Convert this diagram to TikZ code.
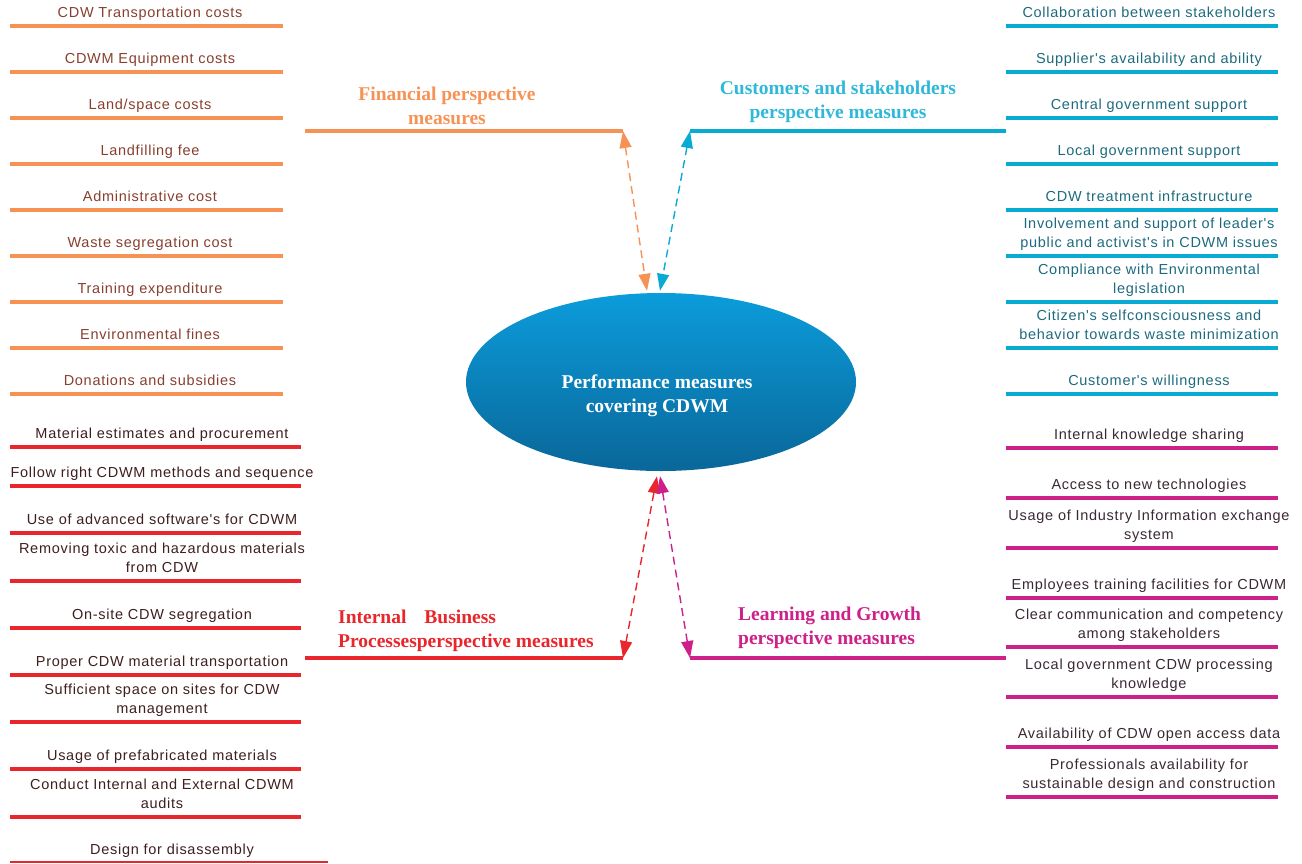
\documentclass[tikz,border=0pt]{standalone}
\usepackage{fontspec}
\setmainfont{Liberation Serif}
\newfontfamily\itemfont[LetterSpace=5]{Liberation Sans}
\usetikzlibrary{shapes.geometric,arrows.meta}
\definecolor{finOr}{HTML}{F79255}
\definecolor{cusCy}{HTML}{0AABD2}
\definecolor{ibpRd}{HTML}{E8262B}
\definecolor{lgMg}{HTML}{CD2089}
\definecolor{finTxt}{HTML}{873F2E}
\definecolor{cusTxt}{HTML}{1D6A7E}
\definecolor{ibpTxt}{HTML}{3E1E1E}
\definecolor{lgTxt}{HTML}{3A2834}
\definecolor{hubTop}{HTML}{0B9CDB}
\definecolor{hubBot}{HTML}{0A6799}
\tikzset{
  itemtext/.style={font=\itemfont\fontsize{14.5}{19}\selectfont, align=center, anchor=south, inner sep=0pt, execute at end node=\strut},
  bar/.style={line width=4pt},
  headtext/.style={font=\bfseries\fontsize{19.5}{24}\selectfont, inner sep=0pt},
  dual/.style={dashed, dash pattern=on 8pt off 5pt, line width=1.4pt, {Triangle[length=17pt,width=12pt]}-{Triangle[length=17pt,width=12pt]}},
  hub/.style={ellipse, minimum width=390pt, minimum height=178pt, top color=hubTop, bottom color=hubBot, inner sep=0pt}
}
\begin{document}
\begin{tikzpicture}[x=1pt,y=-1pt]
  \useasboundingbox (0,0) rectangle (1302,863);
  % financial
  \foreach \y/\t [count=\i] in {26/CDW Transportation costs, 72/CDWM Equipment costs, 118/{Land/space costs}, 164/Landfilling fee, 210/Administrative cost, 256/Waste segregation cost, 302/Training expenditure, 348/Environmental fines, 394/Donations and subsidies}{
    \node[itemtext, text=finTxt] (fin\i) at (150,\y-3) {\t};
    \draw[bar, finOr] (10,\y) -- (283,\y);
  }
  % internal business processes
  \foreach \y/\t [count=\i] in {447/Material estimates and procurement, 486/Follow right CDWM methods and sequence, 533/Use of advanced software's for CDWM, 581/{Removing toxic and hazardous materials\\from CDW}, 628/On-site CDW segregation, 675/Proper CDW material transportation, 722/{Sufficient space on sites for CDW\\management}, 769/Usage of prefabricated materials, 817/{Conduct Internal and External CDWM\\audits}}{
    \node[itemtext, text=ibpTxt] (ibp\i) at (162,\y-3) {\t};
    \draw[bar, ibpRd] (10,\y) -- (301,\y);
  }
  \node[itemtext, text=ibpTxt] (ibp10) at (172,860) {Design for disassembly};
  \draw[ibpRd, line width=1.5pt] (10,862) -- (328,862);
  % customers and stakeholders
  \foreach \y/\t [count=\i] in {26/Collaboration between stakeholders, 72/Supplier's availability and ability, 118/Central government support, 164/Local government support, 210/CDW treatment infrastructure, 256/{Involvement and support of leader's\\public and activist's in CDWM issues}, 302/{Compliance with Environmental\\legislation}, 348/{Citizen's selfconsciousness and\\behavior towards waste minimization}, 394/Customer's willingness}{
    \node[itemtext, text=cusTxt] (cus\i) at (1149,\y-3) {\t};
    \draw[bar, cusCy] (1006,\y) -- (1278,\y);
  }
  % learning and growth
  \foreach \y/\t [count=\i] in {448/Internal knowledge sharing, 498/Access to new technologies, 548/{Usage of Industry Information exchange\\system}, 598/Employees training facilities for CDWM, 647/{Clear communication and competency\\among stakeholders}, 697/{Local government CDW processing\\knowledge}, 747/Availability of CDW open access data, 797/{Professionals availability for\\sustainable design and construction}}{
    \node[itemtext, text=lgTxt] (lg\i) at (1149,\y-3) {\t};
    \draw[bar, lgMg] (1006,\y) -- (1278,\y);
  }
  % centre
  \node[hub] (core) at (661,382) {};
  \node[headtext, text=white, align=center] (corelbl) at (657,396) {Performance measures\\covering CDWM};
  % perspectives
  \node[headtext, text=finOr, align=center] (finhead) at (447,106) {Financial perspective\\measures};
  \node[headtext, text=cusCy!85!white, align=center] (cushead) at (838,102) {Customers and stakeholders\\perspective measures};
  \node[headtext, text=ibpRd, align=left, anchor=west] (ibphead) at (338,631) {Internal\hspace{18pt}Business\\Processesperspective measures};
  \node[headtext, text=lgMg, align=left, anchor=west] (lghead) at (738,628) {Learning and Growth\\perspective measures};
  \coordinate (finL) at (305,131);
  \coordinate (finR) at (623,131);
  \coordinate (cusL) at (690,131);
  \coordinate (cusR) at (1006,131);
  \coordinate (ibpL) at (305,658);
  \coordinate (ibpR) at (623,658);
  \coordinate (lgL) at (690,658);
  \coordinate (lgR) at (1006,658);
  \draw[bar, finOr] (finL) -- (finR);
  \draw[bar, cusCy] (cusL) -- (cusR);
  \draw[bar, ibpRd] (ibpL) -- (ibpR);
  \draw[bar, lgMg] (lgL) -- (lgR);
  \coordinate (coreFin) at ([xshift=-14pt,yshift=2pt]core.north);
  \coordinate (coreCus) at ([xshift=-1pt,yshift=2pt]core.north);
  \coordinate (coreIbp) at ([xshift=-4pt,yshift=-5pt]core.south);
  \coordinate (coreLg) at ([xshift=-1pt,yshift=-5pt]core.south);
  \draw[dual, finOr] (finR) -- (coreFin);
  \draw[dual, cusCy] (cusL) -- (coreCus);
  \draw[dual, ibpRd] (ibpR) -- (coreIbp);
  \draw[dual, lgMg] (lgL) -- (coreLg);
\end{tikzpicture}
\end{document}
